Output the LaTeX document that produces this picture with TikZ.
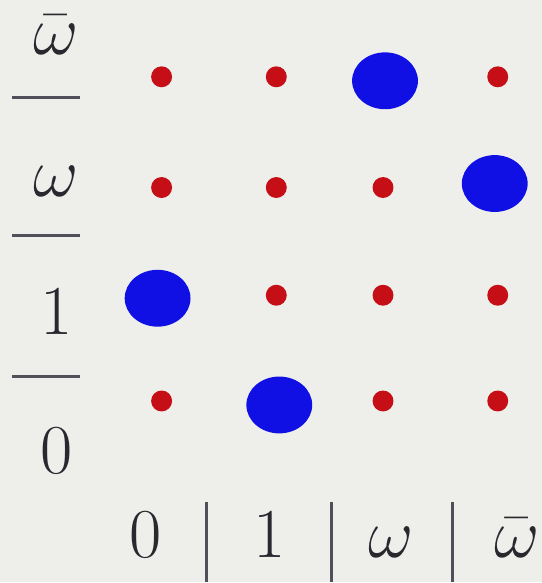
\documentclass[tikz,border=0pt]{standalone}
\usepackage{fix-cm}
\usepackage{xcolor}
\usetikzlibrary{shapes.geometric}
\definecolor{paper}{RGB}{238,239,235}
\definecolor{dotred}{RGB}{198,14,22}
\definecolor{dotblue}{RGB}{16,16,228}
\definecolor{ink}{RGB}{40,40,46}
\definecolor{rulegray}{RGB}{80,80,90}

\begin{document}
\begin{tikzpicture}[x=0.02cm, y=-0.02cm,
    small/.style={circle, fill=dotred, inner sep=0pt, minimum size=0.42cm},
    big/.style={ellipse, fill=dotblue, inner sep=0pt,
                minimum width=1.32cm, minimum height=1.14cm},
    lbl/.style={text=ink, font=\fontsize{40}{48}\selectfont,
                anchor=base, inner sep=0pt},
    sep/.style={draw=rulegray, line width=1.7pt},
]

% Fondo
\fill[paper] (0,0) rectangle (543,583);

% Fila omega barra
\node[small] (wb-0) at (162,77) {};
\node[small] (wb-1) at (277,77) {};
\node[big]   (wb-w) at (386,81) {};
\node[small] (wb-wb) at (499,77) {};

% Fila omega
\node[small] (w-0) at (162,188) {};
\node[small] (w-1) at (277,188) {};
\node[small] (w-w) at (384,188) {};
\node[big]   (w-wb) at (496,184) {};

% Fila 1
\node[big]   (u-0) at (158,299) {};
\node[small] (u-1) at (277,296) {};
\node[small] (u-w) at (384,296) {};
\node[small] (u-wb) at (499,296) {};

% Fila 0
\node[small] (z-0) at (162,402) {};
\node[big]   (z-1) at (280,406) {};
\node[small] (z-w) at (384,402) {};
\node[small] (z-wb) at (499,402) {};

% Etiquetas de filas
\node[lbl] (rwb) at (56,55)  {$\bar{\omega}$};
\node[lbl] (rw)  at (56,197) {$\omega$};
\node[lbl] (ru)  at (57,335) {$1$};
\node[lbl] (rz)  at (57,475) {$0$};
\draw[sep] (12,98)  -- (80,98);
\draw[sep] (12,236) -- (80,236);
\draw[sep] (12,377) -- (80,377);

% Etiquetas de columnas
\node[lbl] (cz)  at (146,559) {$0$};
\node[lbl] (cu)  at (270,559) {$1$};
\node[lbl] (cw)  at (392,559) {$\omega$};
\node[lbl] (cwb) at (518,559) {$\bar{\omega}$};
\draw[sep] (207,503) -- (207,583);
\draw[sep] (332,503) -- (332,583);
\draw[sep] (454,503) -- (454,583);

\end{tikzpicture}
\end{document}
